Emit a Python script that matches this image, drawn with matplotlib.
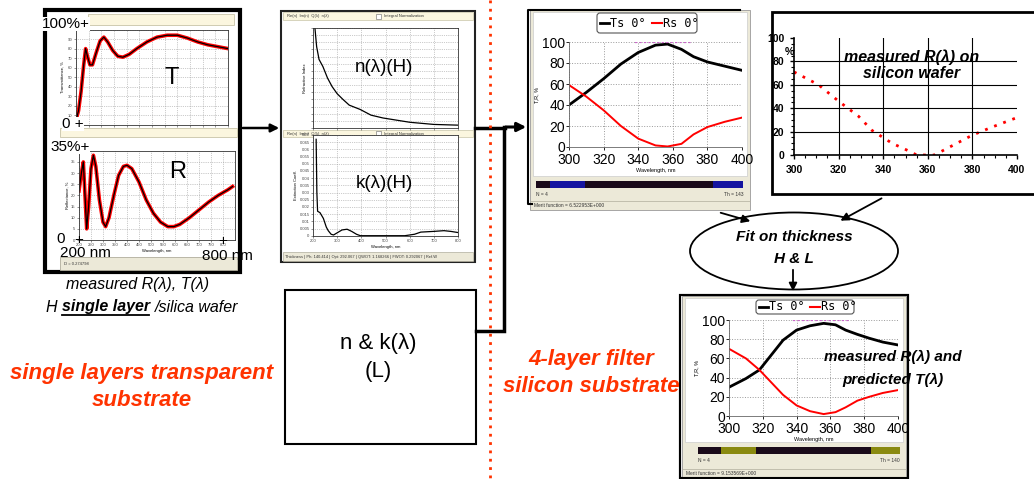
import matplotlib.pyplot as plt
import matplotlib.patches as mpatches
import numpy as np

plt.rcParams['font.family'] = ['Liberation Sans', 'DejaVu Sans']

W, H = 1034, 479

# measured T and R of the H single layer (wavelength nm, %)
t_wl = [200, 210, 220, 230, 238, 245, 255, 265, 280, 295, 310, 325, 345, 365, 385, 410,
        440, 480, 520, 560, 600, 640, 680, 720, 760, 800]
t_val = [5, 15, 35, 62, 80, 72, 63, 63, 76, 88, 92, 87, 78, 72, 71, 74,
         80, 87, 92, 94, 94, 91, 87, 84, 82, 80]
r_wl = [200, 210, 218, 225, 232, 240, 250, 260, 270, 285, 300, 311, 325, 345, 365, 385,
        400, 420, 450, 480, 510, 540, 570, 595, 620, 660, 700, 740, 780, 820, 840]
r_val = [22, 30, 35, 20, 5, 15, 32, 38, 33, 18, 8, 6, 10, 20, 29, 33,
         33.5, 32, 26, 18, 12, 8, 6, 6, 7, 10, 13.5, 17, 20, 22.5, 24]

# n(lambda) and k(lambda) of H
n_wl = [208, 215, 225, 241, 260, 279, 300, 324, 350, 395, 440, 490, 601, 700, 800]
n_val = [2.6, 2.47, 2.38, 2.33, 2.25, 2.19, 2.14, 2.10, 2.06, 2.03, 1.99, 1.97, 1.94, 1.925, 1.92]
k_wl = [213, 216, 219, 229, 243, 255, 263, 275, 285, 300, 320, 341, 360, 380, 396, 500,
        580, 620, 646, 700, 742, 770, 800]
k_val = [0.067, 0.03, 0.017, 0.016, 0.012, 0.006, 0.0035, 0.001, 0.0005, 0.002, 0.004, 0.0045,
         0.003, 0.001, 0, 0, 0, 0.001, 0.0025, 0.003, 0.0035, 0.003, 0.0022]

# 4-layer filter, first design
f1_wl = [300, 310, 320, 330, 340, 350, 357, 365, 372, 380, 390, 400]
f1_ts = [40, 52, 65, 79, 90, 97, 98, 93, 86, 81, 77, 73]
f1_rs = [59, 48, 35, 20, 8, 1.5, 0.5, 3, 12, 19, 24, 28]

# measured R on silicon wafer
si_wl = [300, 311, 320, 329, 335, 344, 352, 355, 363, 370, 380, 389, 400]
si_r = [71, 60, 46, 33, 21, 10, 3, 0, 0, 7, 17, 24, 32]

# 4-layer filter after fit
f2_wl = [300, 310, 318, 332, 340, 348, 356, 363, 369, 376, 383, 391, 400]
f2_ts = [30, 39, 48, 79, 89.5, 94, 96.5, 95, 89.5, 85, 81, 77, 74]
f2_rs = [70, 60, 48, 22, 11, 5, 2, 4, 9, 16, 20, 24, 27]

RED = '#ff3300'
CREAM = '#fbf6df'
GRAYUI = '#ece9d8'

fig = plt.figure(figsize=(W / 100, H / 100), dpi=100)


def px_ax(x, y, w, h, z=1):
    return fig.add_axes([x / W, 1 - (y + h) / H, w / W, h / H], zorder=z)


def overlay(z):
    a = fig.add_axes([0, 0, 1, 1], zorder=z)
    a.set_xlim(0, W)
    a.set_ylim(H, 0)
    a.axis('off')
    a.patch.set_alpha(0)
    return a


bg = overlay(0)
fg = overlay(5)


def rect(a, x0, y0, x1, y1, **kw):
    a.add_patch(mpatches.Rectangle((x0, y0), x1 - x0, y1 - y0, **kw))


def tiny(a):
    a.tick_params(labelsize=3, length=1.5, width=0.4, pad=1, colors='#444444')
    for s in a.spines.values():
        s.set_linewidth(0.6)
        s.set_color('#333333')
    a.grid(True, ls=':', lw=0.5, color='#999999')


WB = dict(fc='white', ec='none', pad=0.3)

# ---------- left box: measured T and R ----------
rect(bg, 45, 10, 240, 272, fc='white', ec='black', lw=3)
rect(bg, 88, 14, 234, 25, fc=CREAM, ec='#c8c4a8', lw=0.6)
rect(bg, 60, 128, 237, 137, fc=CREAM, ec='#c8c4a8', lw=0.6)
rect(bg, 60, 257, 237, 270, fc=GRAYUI, ec='#b0ad9c', lw=0.6)
bg.text(64, 264, 'D = 0.274798', fontsize=3, va='center', color='#333333')

axT = px_ax(76, 29.5, 152, 95.5)
axT.plot(t_wl, t_val, color='red', lw=2.6)
axT.plot(t_wl, t_val, color='black', lw=0.9)
axT.set_xlim(200, 800)
axT.set_ylim(0, 100)
axT.set_yticks(range(0, 101, 10))
axT.set_xticks(range(200, 801, 50))
axT.set_xticklabels([])
axT.set_ylabel('Transmittance, %', fontsize=3, labelpad=1)
tiny(axT)

axR = px_ax(79, 150.8, 156, 89.2)
axR.plot(r_wl, r_val, color='red', lw=2.6)
axR.plot(r_wl, r_val, color='black', lw=0.9)
axR.set_xlim(200, 850)
axR.set_ylim(0, 40)
axR.set_yticks(range(0, 36, 5))
axR.set_xticks(range(200, 801, 50))
axR.set_xlabel('Wavelength, nm', fontsize=3, labelpad=1)
axR.set_ylabel('Reflectance, %', fontsize=3, labelpad=1)
tiny(axR)

fg.text(42, 24, '100%+', fontsize=11, va='center', bbox=WB)
fg.text(62, 124, '0 +', fontsize=11, va='center', bbox=WB)
fg.text(50, 147, '35%+', fontsize=11, va='center', bbox=WB)
fg.text(56, 239, '0', fontsize=11, va='center', bbox=WB)
fg.text(79, 240, '+', fontsize=11, ha='center', va='center')
fg.text(223, 241, '+', fontsize=11, ha='center', va='center')
fg.text(60, 253, '200 nm', fontsize=11, va='center')
fg.text(202, 256, '800 nm', fontsize=11, va='center')
fg.text(172, 78, 'T', fontsize=17, ha='center', va='center')
fg.text(178, 172, 'R', fontsize=17, ha='center', va='center')

fg.text(138, 285, 'measured R(λ), T(λ)', fontsize=11.5, style='italic', ha='center', va='center')
fg.text(46, 307, 'H', fontsize=11.5, style='italic', va='center')
fg.text(62, 307, 'single layer', fontsize=11.5, style='italic', weight='bold', va='center')
fg.plot([62, 149], [315, 315], color='black', lw=1.3)
fg.text(155, 307, '/silica wafer', fontsize=11.5, style='italic', va='center')

fg.text(142, 373, 'single layers transparent', fontsize=16, style='italic', weight='bold',
        color=RED, ha='center', va='center')
fg.text(142, 401, 'substrate', fontsize=16, style='italic', weight='bold',
        color=RED, ha='center', va='center')

fg.annotate('', xy=(282, 128), xytext=(240, 128),
            arrowprops=dict(arrowstyle='-|>', color='black', lw=1.8, mutation_scale=12))

# ---------- middle panel: n and k of H ----------
rect(bg, 281, 11, 475, 262, fc='white', ec='#222222', lw=1.5)
rect(bg, 283, 12, 473, 20, fc=CREAM, ec='#c8c4a8', lw=0.5)
rect(bg, 283, 130, 473, 137, fc=CREAM, ec='#c8c4a8', lw=0.5)
rect(bg, 283, 252, 473, 261, fc=GRAYUI, ec='#b0ad9c', lw=0.5)
for yy in (16, 133.5):
    bg.text(287, yy, 'Re(n)  Im(n)  Q(λ)  n(λ)', fontsize=3, va='center', color='#333333')
    rect(bg, 376, yy - 2.5, 381, yy + 2.5, fc='white', ec='#666666', lw=0.4)
    bg.text(384, yy, 'Integral Normalization', fontsize=3, va='center', color='#333333')
bg.text(285, 257, 'Thickness | Ph: 140.414 | Opt: 292.067 | QWOT: 1.168266 | FWOT: 0.292067 | Ref.W',
        fontsize=2.9, va='center', color='#333333')

axN = px_ax(313, 28, 145, 100)
axN.plot(n_wl, n_val, color='black', lw=0.9)
axN.set_xlim(200, 800)
axN.set_ylim(1.9, 2.6)
axN.set_xticks(range(200, 801, 100))
axN.set_yticks(np.arange(1.9, 2.61, 0.05))
axN.set_xticklabels([])
axN.set_yticklabels([])
axN.set_ylabel('Refractive Index', fontsize=3, labelpad=2)
tiny(axN)

axK = px_ax(313, 135, 145, 100.7)
axK.plot(k_wl, k_val, color='black', lw=0.9)
axK.set_xlim(200, 800)
axK.set_ylim(0, 0.07)
axK.set_xticks(range(200, 801, 100))
axK.set_yticks(np.arange(0, 0.0701, 0.005))
axK.set_yticklabels(['0', '0.005', '0.01', '0.015', '0.02', '0.025', '0.03', '0.035', '0.04',
                     '0.045', '0.05', '0.055', '0.06', '0.065', '0.07'])
axK.set_xlabel('Wavelength, nm', fontsize=3, labelpad=1)
axK.set_ylabel('Extinction Coeff.', fontsize=3, labelpad=1)
tiny(axK)

fg.text(384, 67, 'n(λ)(H)', fontsize=13.5, ha='center', va='center')
fg.text(384, 183, 'k(λ)(H)', fontsize=13.5, ha='center', va='center')

# n & k (L) box and connectors
rect(bg, 285, 290, 476, 444, fc='white', ec='black', lw=1.5)
fg.text(378, 343, 'n & k(λ)', fontsize=16, ha='center', va='center')
fg.text(378, 371, '(L)', fontsize=16, ha='center', va='center')
fg.plot([476, 504, 504], [331, 331, 127], color='black', lw=2.5, solid_joinstyle='miter')
fg.plot([475, 505], [128, 128], color='black', lw=2.5)
fg.annotate('', xy=(529, 127), xytext=(503, 127),
            arrowprops=dict(arrowstyle='-|>', color='black', lw=2.2, mutation_scale=13))

# red dotted separator
fg.plot([490, 490], [0, H], color=RED, lw=2, ls=(0, (1, 2)))
fg.text(591, 360, '4-layer filter', fontsize=16, style='italic', weight='bold',
        color=RED, ha='center', va='center')
fg.text(591, 387, 'silicon substrate', fontsize=16, style='italic', weight='bold',
        color=RED, ha='center', va='center')


# ---------- filter screenshots ----------
def filter_panel(x0, y0, x1, y1, plot_box, wl, ts, rs, legend_box, bar_y, segs, seg_col, th, merit):
    rect(bg, x0, y0, x1, y1, fc=GRAYUI, ec='#999999', lw=0.6)
    rect(bg, x0 + 3, y0 + 2, x1 - 3, bar_y - 5, fc='white', ec='#cccccc', lw=0.5)
    a = px_ax(*plot_box)
    a.plot(wl, ts, color='black', lw=2)
    a.plot(wl, rs, color='red', lw=1.4)
    a.plot([338, 371], [100, 100], color='#cc66cc', lw=1.6, ls=(0, (1, 1)))
    a.set_xlim(300, 400)
    a.set_ylim(0, 100)
    a.set_xticks(range(300, 401, 20))
    a.set_yticks(range(0, 101, 20))
    a.tick_params(labelsize=10, length=2, width=0.6, pad=1)
    a.tick_params(axis='x', pad=2)
    a.grid(True, ls=':', lw=0.7, color='#999999')
    for s in a.spines.values():
        s.set_linewidth(0.6)
        s.set_color('#666666')
    a.spines['top'].set_visible(False)
    a.spines['right'].set_visible(False)
    a.set_xlabel('Wavelength, nm', fontsize=4, labelpad=1)
    a.set_ylabel('T,R, %', fontsize=4, labelpad=2)
    lx0, ly0, lx1, ly1 = legend_box
    bg.add_patch(mpatches.FancyBboxPatch((lx0, ly0), lx1 - lx0, ly1 - ly0,
                                         boxstyle='round,pad=0,rounding_size=3',
                                         fc='white', ec='#555555', lw=0.8, zorder=3))
    ym = (ly0 + ly1) / 2
    w = lx1 - lx0
    fg.plot([lx0 + 3, lx0 + 0.12 * w], [ym, ym], color='black', lw=2)
    fg.text(lx0 + 0.13 * w, ym, 'Ts 0°', fontsize=8.5, family='DejaVu Sans Mono', va='center')
    fg.plot([lx0 + 0.55 * w, lx0 + 0.65 * w], [ym, ym], color='red', lw=1.5)
    fg.text(lx0 + 0.66 * w, ym, 'Rs 0°', fontsize=8.5, family='DejaVu Sans Mono', va='center')
    for (s0, s1), c in zip(segs, seg_col):
        rect(bg, s0, bar_y, s1, bar_y + 7, fc=c, ec='none')
    bg.text(segs[0][0], bar_y + 13, 'N = 4', fontsize=3.5, va='center', color='#333333')
    bg.text(segs[-1][1], bar_y + 13, 'Th = ' + th, fontsize=3.5, ha='right', va='center', color='#333333')
    bg.plot([x0, x1], [y1 - 9, y1 - 9], color='#b0ad9c', lw=0.5)
    bg.text(x0 + 4, y1 - 4.5, 'Merit function = ' + merit, fontsize=3.5, va='center', color='#333333')
    return a


filter_panel(530, 10, 750, 210, (569, 42, 173, 105), f1_wl, f1_ts, f1_rs,
             (597, 13, 697, 33), 181,
             [(536, 550), (550, 585), (585, 713), (713, 743)],
             ['#1a0a1a', '#1414a0', '#1a0a1a', '#1414a0'], '143', '6.522953E+000')
fg.plot([740, 528, 528, 532], [10, 10, 204, 204], color='black', lw=1.5)

rect(bg, 680, 295, 908, 478, fc='none', ec='black', lw=1.5)
filter_panel(682, 296, 906, 478, (729, 320, 169, 96), f2_wl, f2_ts, f2_rs,
             (756, 300, 854, 314), 447,
             [(698, 721), (721, 756), (756, 871), (871, 900)],
             ['#1a0a1a', '#8a8a10', '#1a0a1a', '#8a8a10'], '140', '9.153569E+000')
rect(fg, 680, 295, 908, 478, fc='none', ec='black', lw=1.5)
fg.text(893, 357, 'measured R(λ) and', fontsize=11, style='italic', weight='bold',
        ha='center', va='center')
fg.text(893, 380, 'predicted T(λ)', fontsize=11, style='italic', weight='bold',
        ha='center', va='center')

# ---------- measured R on silicon ----------
rect(bg, 772, 12, 1040, 194, fc='white', ec='black', lw=2)
axS = px_ax(794, 38, 223, 117)
axS.plot(si_wl, si_r, color='red', lw=2, ls=(0, (1, 2.5)))
axS.set_xlim(300, 400)
axS.set_ylim(0, 100)
axS.set_xticks(range(300, 401, 20))
axS.set_yticks(range(0, 101, 20))
axS.set_yticks(range(0, 101, 5), minor=True)
axS.set_xticks(range(300, 401, 5), minor=True)
axS.tick_params(labelsize=7.5, length=3, width=1, pad=4)
axS.tick_params(which='minor', length=2, width=0.8)
for lab in axS.get_xticklabels() + axS.get_yticklabels():
    lab.set_fontweight('bold')
axS.spines['top'].set_visible(False)
axS.spines['right'].set_visible(False)
axS.spines['left'].set_linewidth(1.2)
axS.spines['bottom'].set_linewidth(1.2)
for v in (20, 40, 60, 80):
    axS.axhline(v, color='black', lw=0.8)
for v in (320, 340, 360, 380):
    axS.axvline(v, color='black', lw=0.8)
fg.text(789, 52, '%', fontsize=7.5, weight='bold', ha='center', va='center')
fg.text(912, 57, 'measured R(λ) on', fontsize=11.5, style='italic', weight='bold',
        ha='center', va='center')
fg.text(912, 73, 'silicon wafer', fontsize=11.5, style='italic', weight='bold',
        ha='center', va='center')

# ---------- fit ellipse and arrows ----------
fg.add_patch(mpatches.Ellipse((794, 251), 208, 77, fc='white', ec='black', lw=1.3))
fg.text(794, 237, 'Fit on thickness', fontsize=11, style='italic', weight='bold',
        ha='center', va='center')
fg.text(794, 259, 'H & L', fontsize=11, style='italic', weight='bold',
        ha='center', va='center')
ar = dict(arrowstyle='-|>', color='black', lw=1.3, mutation_scale=12)
fg.annotate('', xy=(753, 222), xytext=(718, 212), arrowprops=ar)
fg.annotate('', xy=(838, 222), xytext=(884, 197), arrowprops=ar)
fg.annotate('', xy=(793, 294), xytext=(793, 267), arrowprops=ar)

fig.savefig('out.png', dpi=100)
